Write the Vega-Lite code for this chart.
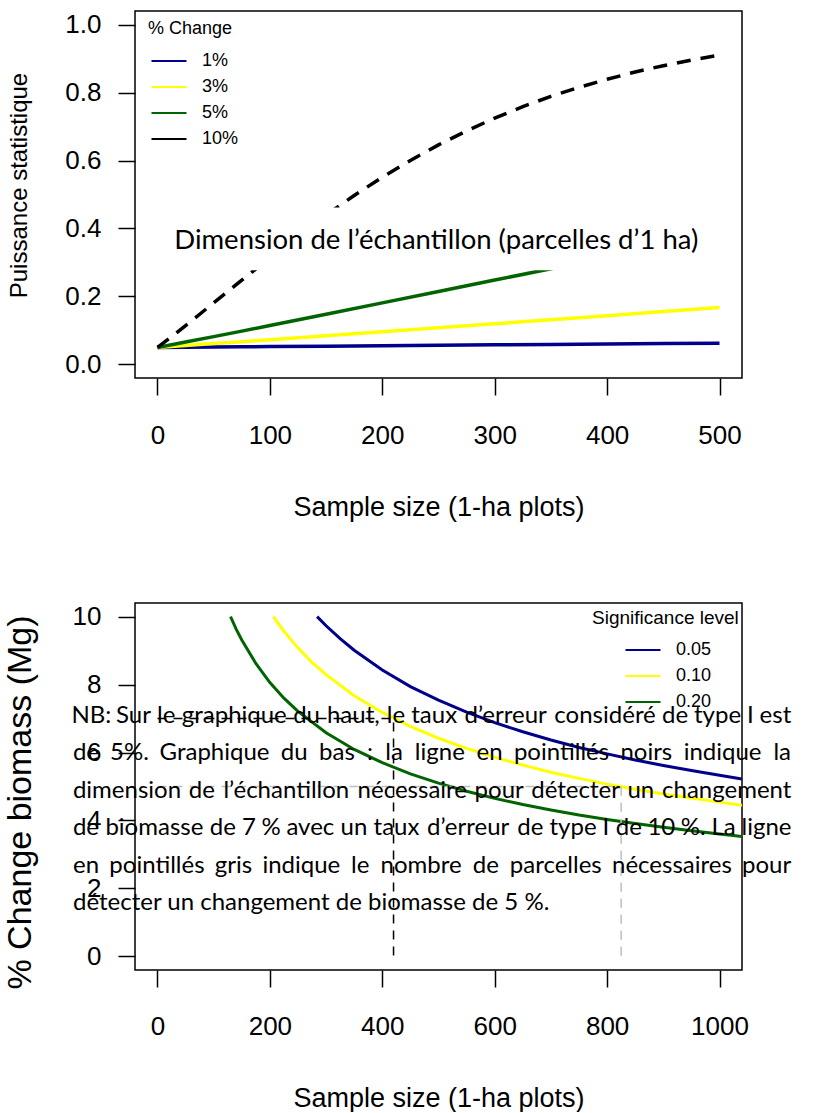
{
  "$schema": "https://vega.github.io/schema/vega-lite/v6.json",
  "padding": {"left": 2, "top": 10, "right": 5, "bottom": 0},
  "background": "white",
  "spacing": 225,
  "bounds": "flush",
  "resolve": {"scale": {"color": "independent"}, "legend": {"color": "independent"}},
  "config": {
    "view": {"stroke": "black", "strokeWidth": 1.5},
    "font": "Liberation Sans",
    "axis": {"domain": false, "grid": false, "ticks": true, "tickColor": "black", "tickSize": 17, "tickWidth": 1.5,
      "labelFont": "Liberation Sans", "labelFontSize": 26, "labelColor": "black",
      "titleFont": "Liberation Sans", "titleFontWeight": "normal", "titleColor": "black"},
    "legend": {"titleFont": "Liberation Sans", "titleFontWeight": "normal", "titleColor": "black", "titleFontSize": 18,
      "labelFont": "Liberation Sans", "labelFontSize": 18, "labelColor": "black",
      "symbolType": "M-1.75,0H1.75", "symbolSize": 400, "symbolStrokeWidth": 2, "padding": 0, "rowPadding": 6}
  },
  "datasets": {
    "power": [
      {"n": 0, "power": 0.05, "change": "1%"}, {"n": 25, "power": 0.0506, "change": "1%"}, {"n": 50, "power": 0.0512, "change": "1%"},
      {"n": 75, "power": 0.0519, "change": "1%"}, {"n": 100, "power": 0.0525, "change": "1%"}, {"n": 150, "power": 0.0537, "change": "1%"},
      {"n": 200, "power": 0.055, "change": "1%"}, {"n": 250, "power": 0.0562, "change": "1%"}, {"n": 300, "power": 0.0575, "change": "1%"},
      {"n": 350, "power": 0.0587, "change": "1%"}, {"n": 400, "power": 0.06, "change": "1%"}, {"n": 450, "power": 0.0612, "change": "1%"},
      {"n": 500, "power": 0.0625, "change": "1%"},
      {"n": 0, "power": 0.05, "change": "3%"}, {"n": 25, "power": 0.0557, "change": "3%"}, {"n": 50, "power": 0.0613, "change": "3%"},
      {"n": 75, "power": 0.067, "change": "3%"}, {"n": 100, "power": 0.0727, "change": "3%"}, {"n": 150, "power": 0.0843, "change": "3%"},
      {"n": 200, "power": 0.096, "change": "3%"}, {"n": 250, "power": 0.1078, "change": "3%"}, {"n": 300, "power": 0.1196, "change": "3%"},
      {"n": 350, "power": 0.1316, "change": "3%"}, {"n": 400, "power": 0.1435, "change": "3%"}, {"n": 450, "power": 0.1556, "change": "3%"},
      {"n": 500, "power": 0.1676, "change": "3%"},
      {"n": 0, "power": 0.05, "change": "5%"}, {"n": 25, "power": 0.0657, "change": "5%"}, {"n": 50, "power": 0.0817, "change": "5%"},
      {"n": 75, "power": 0.098, "change": "5%"}, {"n": 100, "power": 0.1144, "change": "5%"}, {"n": 150, "power": 0.1475, "change": "5%"},
      {"n": 200, "power": 0.1811, "change": "5%"}, {"n": 250, "power": 0.2147, "change": "5%"}, {"n": 300, "power": 0.2482, "change": "5%"},
      {"n": 350, "power": 0.2815, "change": "5%"}, {"n": 400, "power": 0.3144, "change": "5%"}, {"n": 450, "power": 0.3467, "change": "5%"},
      {"n": 500, "power": 0.3785, "change": "5%"},
      {"n": 0, "power": 0.05, "change": "10%"}, {"n": 5, "power": 0.0625, "change": "10%"}, {"n": 10, "power": 0.075, "change": "10%"},
      {"n": 25, "power": 0.1144, "change": "10%"}, {"n": 40, "power": 0.1542, "change": "10%"}, {"n": 50, "power": 0.181, "change": "10%"},
      {"n": 60, "power": 0.208, "change": "10%"}, {"n": 75, "power": 0.248, "change": "10%"}, {"n": 100, "power": 0.314, "change": "10%"},
      {"n": 125, "power": 0.3785, "change": "10%"}, {"n": 150, "power": 0.44, "change": "10%"}, {"n": 175, "power": 0.497, "change": "10%"},
      {"n": 200, "power": 0.551, "change": "10%"}, {"n": 225, "power": 0.6003, "change": "10%"}, {"n": 250, "power": 0.646, "change": "10%"},
      {"n": 275, "power": 0.6871, "change": "10%"}, {"n": 300, "power": 0.725, "change": "10%"}, {"n": 325, "power": 0.7584, "change": "10%"},
      {"n": 350, "power": 0.789, "change": "10%"}, {"n": 375, "power": 0.8154, "change": "10%"}, {"n": 400, "power": 0.839, "change": "10%"},
      {"n": 425, "power": 0.8606, "change": "10%"}, {"n": 450, "power": 0.879, "change": "10%"}, {"n": 475, "power": 0.8956, "change": "10%"},
      {"n": 500, "power": 0.91, "change": "10%"}
    ],
    "box": [{"n": 20, "n_end": 510, "power": 0.277, "power_end": 0.462}],
    "boxlabel": [{"n": 248, "power": 0.34, "t": "Dimension de l’échantillon (parcelles d’1 ha)"}],
    "nsize": [
      {"n": 284, "pct": 10.0, "alpha": "0.05"}, {"n": 300, "pct": 9.73, "alpha": "0.05"}, {"n": 325, "pct": 9.35, "alpha": "0.05"},
      {"n": 350, "pct": 9.01, "alpha": "0.05"}, {"n": 400, "pct": 8.43, "alpha": "0.05"}, {"n": 450, "pct": 7.94, "alpha": "0.05"},
      {"n": 500, "pct": 7.54, "alpha": "0.05"}, {"n": 550, "pct": 7.19, "alpha": "0.05"}, {"n": 600, "pct": 6.88, "alpha": "0.05"},
      {"n": 650, "pct": 6.61, "alpha": "0.05"}, {"n": 700, "pct": 6.37, "alpha": "0.05"}, {"n": 750, "pct": 6.15, "alpha": "0.05"},
      {"n": 800, "pct": 5.96, "alpha": "0.05"}, {"n": 850, "pct": 5.78, "alpha": "0.05"}, {"n": 900, "pct": 5.62, "alpha": "0.05"},
      {"n": 950, "pct": 5.47, "alpha": "0.05"}, {"n": 1000, "pct": 5.33, "alpha": "0.05"}, {"n": 1040, "pct": 5.22, "alpha": "0.05"},
      {"n": 206, "pct": 10.0, "alpha": "0.10"}, {"n": 225, "pct": 9.57, "alpha": "0.10"}, {"n": 250, "pct": 9.08, "alpha": "0.10"},
      {"n": 275, "pct": 8.65, "alpha": "0.10"}, {"n": 300, "pct": 8.29, "alpha": "0.10"}, {"n": 350, "pct": 7.67, "alpha": "0.10"},
      {"n": 400, "pct": 7.18, "alpha": "0.10"}, {"n": 450, "pct": 6.77, "alpha": "0.10"}, {"n": 500, "pct": 6.42, "alpha": "0.10"},
      {"n": 550, "pct": 6.12, "alpha": "0.10"}, {"n": 600, "pct": 5.86, "alpha": "0.10"}, {"n": 650, "pct": 5.63, "alpha": "0.10"},
      {"n": 700, "pct": 5.42, "alpha": "0.10"}, {"n": 750, "pct": 5.24, "alpha": "0.10"}, {"n": 800, "pct": 5.07, "alpha": "0.10"},
      {"n": 850, "pct": 4.92, "alpha": "0.10"}, {"n": 900, "pct": 4.78, "alpha": "0.10"}, {"n": 950, "pct": 4.66, "alpha": "0.10"},
      {"n": 1000, "pct": 4.54, "alpha": "0.10"}, {"n": 1040, "pct": 4.45, "alpha": "0.10"},
      {"n": 130, "pct": 10.0, "alpha": "0.20"}, {"n": 140, "pct": 9.63, "alpha": "0.20"}, {"n": 150, "pct": 9.31, "alpha": "0.20"},
      {"n": 175, "pct": 8.62, "alpha": "0.20"}, {"n": 200, "pct": 8.06, "alpha": "0.20"}, {"n": 225, "pct": 7.6, "alpha": "0.20"},
      {"n": 250, "pct": 7.21, "alpha": "0.20"}, {"n": 300, "pct": 6.58, "alpha": "0.20"}, {"n": 350, "pct": 6.09, "alpha": "0.20"},
      {"n": 400, "pct": 5.7, "alpha": "0.20"}, {"n": 450, "pct": 5.37, "alpha": "0.20"}, {"n": 500, "pct": 5.1, "alpha": "0.20"},
      {"n": 550, "pct": 4.86, "alpha": "0.20"}, {"n": 600, "pct": 4.65, "alpha": "0.20"}, {"n": 650, "pct": 4.47, "alpha": "0.20"},
      {"n": 700, "pct": 4.31, "alpha": "0.20"}, {"n": 750, "pct": 4.16, "alpha": "0.20"}, {"n": 800, "pct": 4.03, "alpha": "0.20"},
      {"n": 850, "pct": 3.91, "alpha": "0.20"}, {"n": 900, "pct": 3.8, "alpha": "0.20"}, {"n": 950, "pct": 3.7, "alpha": "0.20"},
      {"n": 1000, "pct": 3.6, "alpha": "0.20"}, {"n": 1040, "pct": 3.53, "alpha": "0.20"}
    ],
    "refs": [
      {"ref": "7%", "k": 1, "n": 0, "pct": 7}, {"ref": "7%", "k": 2, "n": 420, "pct": 7}, {"ref": "7%", "k": 3, "n": 420, "pct": 0},
      {"ref": "5%", "k": 1, "n": 0, "pct": 5}, {"ref": "5%", "k": 2, "n": 825, "pct": 5}, {"ref": "5%", "k": 3, "n": 825, "pct": 0}
    ],
    "note": [
      {"line": 1, "part": "w", "n": -117.5, "pct": 6.87, "t": "NB:"},
      {"line": 1, "part": "w", "n": -42.8, "pct": 6.87, "t": "Sur"},
      {"line": 1, "part": "w", "n": 15.4, "pct": 6.87, "t": "le"},
      {"line": 1, "part": "w", "n": 136.6, "pct": 6.87, "t": "graphique"},
      {"line": 1, "part": "w", "n": 265.3, "pct": 6.87, "t": "du"},
      {"line": 1, "part": "w", "n": 348.5, "pct": 6.87, "t": "haut,"},
      {"line": 1, "part": "w", "n": 424.3, "pct": 6.87, "t": "le"},
      {"line": 1, "part": "w", "n": 492.3, "pct": 6.87, "t": "taux"},
      {"line": 1, "part": "w", "n": 619.5, "pct": 6.87, "t": "d’erreur"},
      {"line": 1, "part": "w", "n": 796.4, "pct": 6.87, "t": "considéré"},
      {"line": 1, "part": "w", "n": 920.8, "pct": 6.87, "t": "de"},
      {"line": 1, "part": "w", "n": 996.4, "pct": 6.87, "t": "type"},
      {"line": 1, "part": "w", "n": 1054.7, "pct": 6.87, "t": "I"},
      {"line": 1, "part": "w", "n": 1099.5, "pct": 6.87, "t": "est"},
      {"line": 2, "part": "w", "n": -127.2, "pct": 5.77, "t": "de"},
      {"line": 2, "part": "w", "n": -49.9, "pct": 5.77, "t": "5%."},
      {"line": 2, "part": "w", "n": 101.5, "pct": 5.77, "t": "Graphique"},
      {"line": 2, "part": "w", "n": 243.1, "pct": 5.77, "t": "du"},
      {"line": 2, "part": "w", "n": 319.4, "pct": 5.77, "t": "bas"},
      {"line": 2, "part": "w", "n": 378.0, "pct": 5.77, "t": ":"},
      {"line": 2, "part": "w", "n": 421.1, "pct": 5.77, "t": "la"},
      {"line": 2, "part": "w", "n": 502.4, "pct": 5.77, "t": "ligne"},
      {"line": 2, "part": "w", "n": 590.8, "pct": 5.77, "t": "en"},
      {"line": 2, "part": "w", "n": 718.9, "pct": 5.77, "t": "pointillés"},
      {"line": 2, "part": "w", "n": 869.7, "pct": 5.77, "t": "noirs"},
      {"line": 2, "part": "w", "n": 1005.5, "pct": 5.77, "t": "indique"},
      {"line": 2, "part": "w", "n": 1111.6, "pct": 5.77, "t": "la"},
      {"line": 3, "part": "w", "n": -54.3, "pct": 4.67, "t": "dimension"},
      {"line": 3, "part": "w", "n": 79.0, "pct": 4.67, "t": "de"},
      {"line": 3, "part": "w", "n": 229.3, "pct": 4.67, "t": "l’échantillon"},
      {"line": 3, "part": "w", "n": 453.4, "pct": 4.67, "t": "nécessaire"},
      {"line": 3, "part": "w", "n": 608.0, "pct": 4.67, "t": "pour"},
      {"line": 3, "part": "w", "n": 743.9, "pct": 4.67, "t": "détecter"},
      {"line": 3, "part": "w", "n": 860.0, "pct": 4.67, "t": "un"},
      {"line": 3, "part": "w", "n": 1012.8, "pct": 4.67, "t": "changement"},
      {"line": 4, "part": "w", "n": -127.2, "pct": 3.56, "t": "de"},
      {"line": 4, "part": "w", "n": -5.5, "pct": 3.56, "t": "biomasse"},
      {"line": 4, "part": "w", "n": 116.4, "pct": 3.56, "t": "de"},
      {"line": 4, "part": "w", "n": 162.7, "pct": 3.56, "t": "7"},
      {"line": 4, "part": "w", "n": 202.3, "pct": 3.56, "t": "%"},
      {"line": 4, "part": "w", "n": 272.0, "pct": 3.56, "t": "avec"},
      {"line": 4, "part": "w", "n": 349.6, "pct": 3.56, "t": "un"},
      {"line": 4, "part": "w", "n": 425.2, "pct": 3.56, "t": "taux"},
      {"line": 4, "part": "w", "n": 552.8, "pct": 3.56, "t": "d’erreur"},
      {"line": 4, "part": "w", "n": 663.3, "pct": 3.56, "t": "de"},
      {"line": 4, "part": "w", "n": 739.3, "pct": 3.56, "t": "type"},
      {"line": 4, "part": "w", "n": 797.9, "pct": 3.56, "t": "I"},
      {"line": 4, "part": "w", "n": 838.5, "pct": 3.56, "t": "de"},
      {"line": 4, "part": "w", "n": 896.5, "pct": 3.56, "t": "10"},
      {"line": 4, "part": "w", "n": 953.1, "pct": 3.56, "t": "%."},
      {"line": 4, "part": "w", "n": 1007.3, "pct": 3.56, "t": "La"},
      {"line": 4, "part": "w", "n": 1083.7, "pct": 3.56, "t": "ligne"},
      {"line": 5, "part": "w", "n": -127.2, "pct": 2.46, "t": "en"},
      {"line": 5, "part": "w", "n": -0.9, "pct": 2.46, "t": "pointillés"},
      {"line": 5, "part": "w", "n": 135.0, "pct": 2.46, "t": "gris"},
      {"line": 5, "part": "w", "n": 255.9, "pct": 2.46, "t": "indique"},
      {"line": 5, "part": "w", "n": 360.6, "pct": 2.46, "t": "le"},
      {"line": 5, "part": "w", "n": 469.0, "pct": 2.46, "t": "nombre"},
      {"line": 5, "part": "w", "n": 584.4, "pct": 2.46, "t": "de"},
      {"line": 5, "part": "w", "n": 708.6, "pct": 2.46, "t": "parcelles"},
      {"line": 5, "part": "w", "n": 915.3, "pct": 2.46, "t": "nécessaires"},
      {"line": 5, "part": "w", "n": 1083.7, "pct": 2.46, "t": "pour"},
      {"line": 6, "part": "l", "n": -150.3, "pct": 1.36, "t": "détecter un changement de biomasse de 5 %."}
    ]
  },
  "vconcat": [
    {
      "width": 607, "height": 367,
      "layer": [
        {
          "data": {"name": "power"},
          "transform": [{"filter": "datum.change !== '10%'"}],
          "mark": {"type": "line", "strokeWidth": 3.5, "clip": true},
          "encoding": {
            "x": {"field": "n", "type": "quantitative", "title": "Sample size (1-ha plots)",
              "scale": {"domain": [-20, 520], "nice": false, "zero": false},
              "axis": {"values": [0, 100, 200, 300, 400, 500], "titleFontSize": 27, "labelPadding": 27, "titlePadding": 46}},
            "y": {"field": "power", "type": "quantitative", "title": "Puissance statistique",
              "scale": {"domain": [-0.04, 1.04], "nice": false, "zero": false},
              "axis": {"values": [0, 0.2, 0.4, 0.6, 0.8, 1.0], "format": ".1f", "titleFontSize": 24, "labelPadding": 17, "titlePadding": 33, "titleY": 174}},
            "color": {"field": "change", "type": "nominal",
              "scale": {"domain": ["1%", "3%", "5%", "10%"], "range": ["#00008B", "#FFFF00", "#006400", "#000000"]},
              "legend": {"orient": "none", "legendX": 13, "legendY": 9, "title": "% Change", "symbolOffset": 10, "labelOffset": 22, "titlePadding": 12}}
          }
        },
        {
          "data": {"name": "power"},
          "transform": [{"filter": "datum.change === '10%'"}],
          "mark": {"type": "line", "strokeWidth": 3.5, "color": "black", "strokeDash": [14, 10], "clip": true},
          "encoding": {
            "x": {"field": "n", "type": "quantitative", "title": "Sample size (1-ha plots)"},
            "y": {"field": "power", "type": "quantitative", "title": "Puissance statistique"}
          }
        },
        {
          "data": {"name": "box"},
          "mark": {"type": "rect", "fill": "white", "stroke": null},
          "encoding": {
            "x": {"field": "n", "type": "quantitative", "title": "Sample size (1-ha plots)"},
            "x2": {"field": "n_end"},
            "y": {"field": "power", "type": "quantitative", "title": "Puissance statistique"},
            "y2": {"field": "power_end"}
          }
        },
        {
          "data": {"name": "boxlabel"},
          "mark": {"type": "text", "font": "Lato", "fontSize": 27.5, "align": "center", "baseline": "alphabetic", "color": "black"},
          "encoding": {
            "x": {"field": "n", "type": "quantitative", "title": "Sample size (1-ha plots)"},
            "y": {"field": "power", "type": "quantitative", "title": "Puissance statistique"},
            "text": {"field": "t"}
          }
        }
      ]
    },
    {
      "width": 607, "height": 367,
      "layer": [
        {
          "data": {"name": "nsize"},
          "mark": {"type": "line", "strokeWidth": 3, "clip": true},
          "encoding": {
            "x": {"field": "n", "type": "quantitative", "title": "Sample size (1-ha plots)",
              "scale": {"domain": [-40, 1040], "nice": false, "zero": false},
              "axis": {"values": [0, 200, 400, 600, 800, 1000], "format": "d", "titleFontSize": 27, "labelPadding": 26, "titlePadding": 46}},
            "y": {"field": "pct", "type": "quantitative", "title": "% Change biomass (Mg)",
              "scale": {"domain": [-0.4, 10.4], "nice": false, "zero": false},
              "axis": {"values": [0, 2, 4, 6, 8, 10], "titleFontSize": 34, "labelPadding": 17, "titlePadding": 35, "titleY": 199}},
            "color": {"field": "alpha", "type": "nominal",
              "scale": {"domain": ["0.05", "0.10", "0.20"], "range": ["#00008B", "#FFFF00", "#006400"]},
              "legend": {"orient": "none", "legendX": 457, "legendY": 6, "title": "Significance level", "titleFontSize": 19, "symbolOffset": 40, "labelOffset": 22, "titlePadding": 11}}
          }
        },
        {
          "data": {"name": "refs"},
          "transform": [{"filter": "datum.ref === '7%'"}],
          "mark": {"type": "line", "strokeWidth": 1.5, "color": "black", "strokeDash": [9, 7], "clip": true},
          "encoding": {
            "x": {"field": "n", "type": "quantitative", "title": "Sample size (1-ha plots)"},
            "y": {"field": "pct", "type": "quantitative", "title": "% Change biomass (Mg)"},
            "order": {"field": "k"}
          }
        },
        {
          "data": {"name": "refs"},
          "transform": [{"filter": "datum.ref === '5%'"}],
          "mark": {"type": "line", "strokeWidth": 1.5, "color": "#BEBEBE", "strokeDash": [9, 7], "clip": true},
          "encoding": {
            "x": {"field": "n", "type": "quantitative", "title": "Sample size (1-ha plots)"},
            "y": {"field": "pct", "type": "quantitative", "title": "% Change biomass (Mg)"},
            "order": {"field": "k"}
          }
        },
        {
          "data": {"name": "note"},
          "transform": [{"filter": "datum.part === 'w'"}],
          "mark": {"type": "text", "font": "Lato", "fontSize": 24, "align": "center", "baseline": "alphabetic", "color": "black"},
          "encoding": {
            "x": {"field": "n", "type": "quantitative", "title": "Sample size (1-ha plots)"},
            "y": {"field": "pct", "type": "quantitative", "title": "% Change biomass (Mg)"},
            "text": {"field": "t"}
          }
        },
        {
          "data": {"name": "note"},
          "transform": [{"filter": "datum.part === 'l'"}],
          "mark": {"type": "text", "font": "Lato", "fontSize": 24, "align": "left", "baseline": "alphabetic", "color": "black"},
          "encoding": {
            "x": {"field": "n", "type": "quantitative", "title": "Sample size (1-ha plots)"},
            "y": {"field": "pct", "type": "quantitative", "title": "% Change biomass (Mg)"},
            "text": {"field": "t"}
          }
        }
      ]
    }
  ]
}
